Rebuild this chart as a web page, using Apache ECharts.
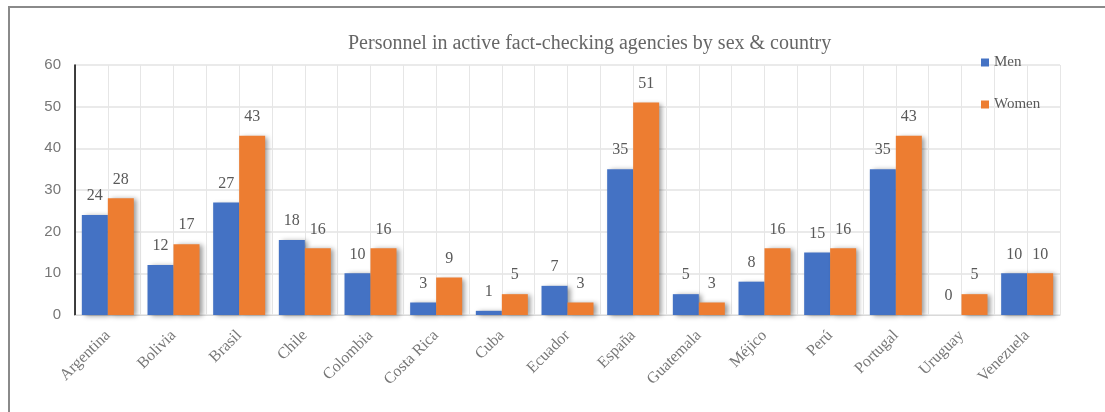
<!DOCTYPE html>
<html>
<head>
<meta charset="utf-8">
<script src="https://cdn.jsdelivr.net/npm/echarts@6/dist/echarts.min.js"></script>
<style>
html,body{margin:0;padding:0;background:#fff;}
#frame{position:absolute;left:8px;top:6px;width:1200px;height:500px;border-top:2px solid #8a8a8a;border-left:2px solid #8a8a8a;}
#chart{position:absolute;left:0;top:0;width:1105px;height:412px;}
</style>
</head>
<body>
<div id="frame"></div>
<div id="chart"></div>
<script>
var categories = ['Argentina','Bolivia','Brasil','Chile','Colombia','Costa Rica','Cuba','Ecuador','España','Guatemala','Méjico','Perú','Portugal','Uruguay','Venezuela'];
var men = [24,12,27,18,10,3,1,7,35,5,8,15,35,0,10];
var women = [28,17,43,16,16,9,5,3,51,3,16,16,43,5,10];
var yTicks = {min:0, max:60, interval:10};

var halfCats = [];
categories.forEach(function(c){ halfCats.push(c+'_a'); halfCats.push(c+'_b'); });

var serif = '"Liberation Serif","Times New Roman",serif';
var sans = '"Liberation Sans",Arial,sans-serif';
var txt = '#595959';

var chart = echarts.init(document.getElementById('chart'));
var barShadow = {shadowColor:'rgba(0,0,0,0.4)', shadowBlur:5, shadowOffsetX:3, shadowOffsetY:1};
chart.setOption({
  animation:false,
  title:{text:'Personnel in active fact-checking agencies by sex & country', left:343, top:29, textStyle:{fontFamily:serif, fontSize:20, fontWeight:'normal', color:'#666'}},
  legend:{orient:'vertical', left:976, top:50, itemWidth:8, itemHeight:8, itemGap:27, icon:'rect', textStyle:{fontFamily:serif, fontSize:15, color:txt}, data:['Men','Women']},
  grid:{left:75, right:45, top:65, bottom:97},
  xAxis:[{
    type:'category', data:categories,
    axisLine:{show:true, lineStyle:{color:'#d9d9d9'}},
    axisTick:{show:false},
    axisLabel:{rotate:45, fontFamily:serif, fontSize:16, color:'#777', margin:18, interval:0},
    splitLine:{show:false}
  },{
    type:'category', data:halfCats, position:'bottom',
    axisLine:{show:false}, axisTick:{show:false}, axisLabel:{show:false},
    splitLine:{show:true, interval:0, lineStyle:{color:'#e6e6e6'}}
  }],
  yAxis:{
    type:'value', min:yTicks.min, max:yTicks.max, interval:yTicks.interval,
    axisLine:{show:true, lineStyle:{color:'#000', width:1.5}},
    axisTick:{show:false},
    axisLabel:{fontFamily:sans, fontSize:15, color:'#777', margin:14},
    splitLine:{lineStyle:{color:'#e3e3e3', width:1.5}}
  },
  series:[{
    name:'Men', type:'bar', data:men, xAxisIndex:0, barWidth:26, barGap:'0%',
    itemStyle:Object.assign({color:'#4472C4'}, barShadow),
    label:{show:true, position:'top', distance:11, fontFamily:serif, fontSize:16, color:txt}
  },{
    name:'Women', type:'bar', data:women, xAxisIndex:0, barWidth:26, barGap:'0%',
    itemStyle:Object.assign({color:'#ED7D31'}, barShadow),
    label:{show:true, position:'top', distance:11, fontFamily:serif, fontSize:16, color:txt}
  }]
});
</script>
</body>
</html>
